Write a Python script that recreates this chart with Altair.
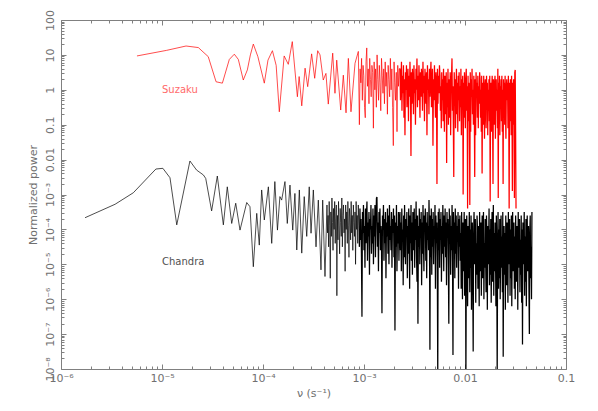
import numpy as np
import pandas as pd
import altair as alt

# ---------------- Suzaku (red) ----------------
# low-frequency part: frequency (Hz) and log10(normalized power)
suzaku_freq_low = [5.65e-6, 1.11e-5, 1.73e-5, 2.29e-5, 2.87e-5, 3.43e-5, 3.96e-5, 4.64e-5, 5.2e-5, 5.7e-5,
                   6.38e-5, 7.0e-5, 7.5e-5, 8.02e-5, 8.9e-5, 1.03e-4, 1.12e-4, 1.24e-4, 1.35e-4, 1.45e-4,
                   1.62e-4, 1.78e-4, 1.95e-4, 2.19e-4, 2.28e-4, 2.42e-4, 2.61e-4, 2.77e-4, 3.03e-4, 3.25e-4,
                   3.48e-4, 3.67e-4, 3.95e-4, 4.2e-4, 4.43e-4, 4.9e-4, 5.16e-4, 5.37e-4, 5.88e-4, 6.24e-4,
                   6.64e-4, 7.0e-4, 7.43e-4, 8.15e-4, 8.79e-4]
suzaku_logp_low = [0.97, 1.13, 1.255, 1.21, 0.95, 0.23, 0.19, 0.87, 1.02, 0.87,
                   0.28, 0.57, 1.0, 1.31, 0.95, 0.19, 0.85, 1.12, 0.7, -0.63,
                   0.97, 0.73, 1.38, -0.2, 0.38, -0.46, 0.62, 0.09, 1.03, 0.33,
                   1.12, 1.0, 0.28, 0.47, -0.41, 1.05, -0.1, 0.85, -0.58, 0.42,
                   -0.66, 0.9, -0.63, 0.76, 1.1]
# dense high-frequency part: band edges (Hz) and log10 power inside each band
suzaku_band_edges = [9.0e-4, 2.27e-3, 5.65e-3, 1.41e-2, 3.2e-2]
suzaku_band_a = [-1.0, 0.6, 0.2, 0.9, -0.3, 0.7, 0.4, -0.5, -0.8, 0.8, 1.2, 0.1, 0.6, -0.4, 0.9, 0.3, -0.2, 0.7,
                 0.5, -1.1, 0.8, 0.0, 0.6, -0.5, 1.0, 0.3, -0.3, 0.7, 0.2, -0.6, 0.9, 0.4, -0.1, 0.6, -0.4, 0.8,
                 0.1, 0.5, -0.7, 0.7, 0.3, -0.2, 0.9, 0.0, 0.6, -0.5, -1.6, 0.8, 0.2, -0.3, 0.5, -1.2, 0.7, 0.1, 0.6]
suzaku_band_b = [0.6, -0.3, 0.2, 0.8, -0.6, 0.4, -0.1, 0.7, -0.8, 0.3, -1.3, 0.5, 0.0, 0.7, -0.5, 0.2, 0.6, -0.9,
                 0.4, -0.2, 0.8, 0.1, -1.9, 0.5, -0.4, 0.6, 0.2, -0.7, 0.7, -0.1, 0.3, -1.0, 0.6, 0.0, 0.9, -0.5,
                 0.4, -0.3, 0.7, 0.1, -0.8, 0.5, -0.2, 0.6, 0.3, -0.6, 0.8, -0.1, 0.4, -0.9, 0.6, 0.2, -0.4, 0.5,
                 -1.3, 0.7, 0.0, 0.3, -0.7, 0.6, -0.2, 0.4, 0.8, -0.5, 0.1, 0.6, -1.6, 0.3, -0.3, 0.7, 0.0, -0.8,
                 0.5, 0.2, -2.7, 0.6, -0.4, 0.4, -0.1, 0.7]
suzaku_band_c = [0.4, -0.6, 0.1, -1.1, 0.5, -0.3, 0.3, -0.9, 0.6, -0.2, -1.2, 0.4, 0.0, -0.7, 0.5, -2.1, 0.2, -0.5,
                 0.6, -1.0, 0.3, -0.1, -0.8, 0.5, -1.3, 0.2, 0.4, 0.9, -0.6, 0.1, -1.0, -2.5, 0.5, -0.4, 0.3, -1.1,
                 0.0, 0.6, -0.7, 0.2, -1.2, 0.4, -0.3, 0.5, -0.9, 0.1, -0.5, 0.6, -1.3, 0.3, -0.2, 0.4, -3.0, 0.2,
                 -0.8, 0.5, -0.1, -1.1, 0.3, 0.6, -0.6, 0.1, -3.4, 0.4, -0.9, 0.2, -0.4, -3.3, 0.5, -1.2, 0.3, -0.2,
                 0.6, -0.7, 0.0, -1.0, 0.4, -0.5, -2.5, 0.3, -1.3, 0.5, -0.1, 0.2, -0.8, 0.4, -1.1, 0.1, -0.4, 0.5]
suzaku_band_d = [0.3, -0.8, 0.0, -1.2, 0.4, -2.4, -0.3, 0.2, -1.0, 0.4, -0.5, -1.4, 0.1, 0.3, -0.7, -1.1, 0.4, -0.2,
                 0.2, -1.3, 0.0, -0.6, 0.3, -0.9, 0.4, -3.2, -0.4, 0.2, -1.2, 0.1, 0.4, -0.8, -2.7, 0.3, -0.3, -1.0,
                 0.2, 0.4, -1.4, -0.1, 0.3, -0.6, 0.0, -1.1, 0.6, -3.1, 0.2, -0.5, 0.4, -1.3, 0.1, -0.2, 0.3, -0.9,
                 0.4, -1.2, 0.0, -2.7, 0.3, -0.4, 0.2, -1.0, 0.4, -0.7, -1.4, 0.1, 0.3, -0.3, 0.2, -1.1, 0.4, -0.6,
                 -3.4, 0.2, -0.9, 0.3, 0.0, -1.3, 0.4, -0.5, -2.9, 0.2, -1.0, 0.3, -0.2, -3.1, 0.5, 0.57, -1.2, -3.4]

# ---------------- Chandra (black) ----------------
chandra_freq_low = [1.73e-6, 3.43e-6, 5.2e-6, 8.7e-6, 1.02e-5, 1.2e-5, 1.4e-5, 1.89e-5, 2.2e-5, 2.57e-5,
                    2.71e-5, 3.1e-5, 3.53e-5, 4.05e-5, 4.43e-5, 4.9e-5, 5.37e-5, 5.92e-5, 6.9e-5, 7.43e-5,
                    8.02e-5, 8.67e-5, 9.19e-5, 9.7e-5, 1.03e-4, 1.13e-4, 1.22e-4, 1.31e-4, 1.39e-4, 1.47e-4,
                    1.53e-4, 1.65e-4, 1.74e-4, 1.85e-4, 1.97e-4, 2.07e-4, 2.16e-4, 2.29e-4, 2.42e-4, 2.56e-4,
                    2.71e-4, 2.87e-4, 2.99e-4, 3.15e-4, 3.35e-4, 3.53e-4, 3.75e-4, 3.9e-4, 4.11e-4]
chandra_logp_low = [-3.665, -3.28, -2.95, -2.27, -2.25, -2.52, -3.87, -2.04, -2.3, -2.44,
                    -2.54, -3.47, -2.47, -3.87, -2.78, -3.83, -3.25, -4.02, -3.23, -3.35,
                    -5.07, -3.54, -4.45, -2.87, -3.73, -2.78, -4.4, -2.63, -4.02, -3.06,
                    -3.16, -2.63, -3.83, -2.73, -4.02, -2.97, -4.59, -2.87, -4.68, -3.06,
                    -4.2, -2.78, -4.11, -2.87, -4.5, -3.16, -5.16, -3.16, -5.35]
chandra_band_edges = [4.3e-4, 9.12e-4, 2.27e-3, 8.9e-3, 4.6e-2]
chandra_band_a = [-3.3, -4.1, -3.6, -4.5, -3.2, -3.9, -5.4, -3.5, -4.2, -3.1, -3.8, -4.6, -3.4, -4.0, -3.2, -4.4,
                  -3.7, -3.3, -5.9, -3.6, -4.3, -3.2, -3.9, -4.7, -3.4, -3.8, -4.2, -3.1, -4.5, -3.6, -3.3, -4.1,
                  -3.7, -5.2, -3.3, -4.0, -3.5, -4.4, -3.2, -3.9, -4.8, -3.4, -3.7, -4.3, -3.2, -4.1, -3.6, -4.6,
                  -3.3, -3.8, -4.2, -3.5, -5.0, -3.2, -4.0, -3.6, -4.4, -3.3, -3.9, -4.5]
chandra_band_b = [-3.4, -4.3, -3.7, -4.8, -6.5, -3.5, -4.1, -3.3, -4.6, -3.9, -5.1, -3.4, -4.4, -3.6, -3.2, -4.9,
                  -3.8, -4.2, -3.5, -5.3, -3.7, -4.0, -3.3, -4.7, -3.9, -4.4, -3.4, -5.0, -3.6, -4.2, -3.3, -4.8,
                  -3.7, -3.1, -3.07, -4.5, -3.8, -5.2, -3.5, -4.1, -3.4, -4.6, -3.9, -4.3, -6.4, -3.6, -4.0, -3.3,
                  -4.9, -3.7, -4.4, -3.5, -5.4, -3.8, -4.2, -3.4, -4.7, -3.6, -5.0, -3.3, -4.3, -3.9, -4.6, -3.5,
                  -5.1, -3.7, -4.1, -3.4, -4.8, -3.6, -6.9, -3.8, -4.5, -3.3, -5.2, -3.9, -4.4, -3.5, -4.9, -3.7]
chandra_band_c = [-3.5, -4.6, -3.8, -5.2, -3.4, -4.3, -4.0, -5.6, -3.6, -4.8, -3.3, -4.5, -5.0, -3.7, -4.2, -3.5,
                  -5.4, -3.9, -4.7, -3.4, -4.1, -5.7, -3.6, -4.4, -3.3, -4.9, -3.8, -5.3, -3.5, -4.6, -4.0, -3.4,
                  -5.1, -3.7, -4.3, -3.2, -4.8, -5.5, -3.6, -6.7, -3.9, -4.5, -3.4, -5.0, -3.7, -4.2, -3.5, -5.6,
                  -3.8, -4.7, -3.3, -4.4, -5.2, -3.6, -4.0, -3.4, -4.9, -3.8, -5.4, -3.5, -4.3, -3.9, -4.6, -3.16,
                  -4.1, -7.45, -3.6, -4.8, -3.4, -5.3, -3.7, -4.5, -3.5, -5.0, -3.9, -4.2, -3.3, -5.7, -3.6, -4.4,
                  -3.8, -4.9, -8.3, -3.5, -4.6, -3.4, -5.1, -3.7, -4.3, -3.5, -5.5, -3.9, -4.7, -3.3, -4.0, -5.2,
                  -3.6, -4.5, -3.4, -4.8, -3.8, -5.6, -3.5, -4.2, -3.7, -5.0, -6.7, -3.4, -4.4, -3.6, -5.3, -3.9,
                  -4.6, -3.3, -4.9, -7.6, -3.5, -4.1, -3.8, -5.4, -3.4, -4.7, -3.6, -5.1, -3.9, -4.3, -3.5, -5.7,
                  -3.7, -4.5]
chandra_band_d = [-3.6, -4.9, -4.1, -5.7, -3.5, -4.4, -6.0, -3.8, -5.2, -4.6, -3.5, -5.9, -4.2, -3.7, -8.3, -5.0,
                  -3.6, -4.7, -6.2, -3.9, -5.4, -4.3, -3.5, -5.8, -4.0, -5.1, -3.6, -6.3, -4.5, -3.8, -5.5, -7.5,
                  -4.2, -3.5, -5.0, -4.8, -3.7, -6.1, -4.4, -5.3, -3.6, -4.0, -5.7, -3.9, -4.6, -6.2, -3.5, -5.2,
                  -4.3, -3.8, -5.9, -4.1, -3.6, -5.4, -4.9, -3.5, -6.0, -4.4, -5.1, -3.7, -4.7, -5.8, -3.6, -4.2,
                  -6.3, -3.9, -5.0, -4.5, -3.4, -5.6, -4.0, -5.3, -3.7, -6.1, -4.8, -3.5, -5.5, -4.3, -3.3, -5.9,
                  -4.1, -5.2, -3.8, -4.6, -6.2, -3.6, -5.0, -8.3, -4.4, -3.5, -5.7, -4.0, -5.4, -3.7, -6.0, -4.7,
                  -3.6, -5.1, -4.2, -5.8, -3.5, -7.65, -4.5, -3.9, -5.3, -4.1, -6.3, -3.6, -4.9, -5.6, -3.8, -4.3,
                  -6.1, -3.5, -5.0, -4.6, -3.7, -5.9, -4.0, -5.4, -3.6, -6.2, -4.4, -3.5, -5.2, -4.8, -3.8, -5.7,
                  -4.2, -6.0, -3.6, -4.5, -5.5, -3.9, -4.1, -6.3, -3.5, -5.1, -4.7, -3.7, -5.8, -4.3, -5.3, -3.6,
                  -6.1, -4.0, -7.3, -3.8, -5.0, -4.6, -3.5, -5.9, -4.2, -5.5, -3.7, -6.2, -4.4, -3.6, -5.2, -4.9,
                  -3.9, -5.7, -7.0, -4.1, -3.6, -5.4, -4.5, -6.0, -3.5]

# ---------------- axes ----------------
x_major = [1e-6, 1e-5, 1e-4, 1e-3, 1e-2, 1e-1]
x_major_labels = ["10⁻⁶", "10⁻⁵", "10⁻⁴", "10⁻³", "0.01", "0.1"]
y_major = [1e-8, 1e-7, 1e-6, 1e-5, 1e-4, 1e-3, 1e-2, 1e-1, 1, 10, 100]
y_major_labels = ["10⁻⁸", "10⁻⁷", "10⁻⁶", "10⁻⁵", "10⁻⁴", "10⁻³", "0.01", "0.1", "1", "10", "100"]
x_minor = [m * 10.0 ** e for e in range(-6, -1) for m in range(2, 10)]
y_minor = [m * 10.0 ** e for e in range(-8, 2) for m in range(2, 10)]

labels = {"Suzaku": (1.0e-5, 0.99), "Chandra": (1.0e-5, 1.16e-5)}


def build(freq_low, logp_low, edges, bands, n_thin=1):
    """Sparse part (drawn thin: traced low frequencies plus the first n_thin bands) and
    crowded part (remaining bands, drawn heavier), sharing their joint point."""
    f = list(freq_low)
    p = list(logp_low)
    split = None
    for i, band in enumerate(bands):
        if i == n_thin:
            split = len(f) - 1
        last = i == len(bands) - 1
        f += list(np.geomspace(edges[i], edges[i + 1], len(band), endpoint=last))
        p += list(band)
    table = pd.DataFrame({"freq": f, "power": 10.0 ** np.array(p)})
    return table.iloc[:split + 1], table.iloc[split:]


suz_low, suz_dense = build(suzaku_freq_low, suzaku_logp_low, suzaku_band_edges,
                           [suzaku_band_a, suzaku_band_b, suzaku_band_c, suzaku_band_d])
cha_low, cha_dense = build(chandra_freq_low, chandra_logp_low, chandra_band_edges,
                           [chandra_band_a, chandra_band_b, chandra_band_c, chandra_band_d])


def label_expr(vals, labs):
    parts = [f"datum.value < {v * 1.5:.3g} ? '{l}'" for v, l in zip(vals, labs)]
    return " : ".join(parts) + " : ''"


GREY = "#808080"
TXT = "#707070"
FONT = "DejaVu Sans"
xs = alt.Scale(type="log", domain=[1e-6, 0.1])
ys = alt.Scale(type="log", domain=[1e-8, 100])

common = dict(domain=False, grid=False, tickColor=GREY, tickWidth=1)


def x_axis(orient, values, size, show):
    kw = dict(common)
    if show:
        kw.update(labelExpr=label_expr(x_major, x_major_labels), labelColor=TXT, labelFont=FONT,
                  labelFontSize=11, labelPadding=3, labelFlush=False, labelOverlap=False,
                  title="ν (s⁻¹)", titleFont=FONT, titleFontSize=11, titleFontWeight="normal",
                  titleColor=TXT, titlePadding=4)
    else:
        kw.update(labels=False, title=None)
    return alt.Axis(orient=orient, values=values, tickSize=size, offset=-size, **kw)


def y_axis(orient, values, size, show):
    kw = dict(common)
    if show:
        kw.update(labelExpr=label_expr(y_major, y_major_labels), labelColor=TXT, labelFont=FONT,
                  labelFontSize=11, labelPadding=6, labelAngle=270, labelAlign="center",
                  labelBaseline="bottom", labelFlush=False, labelOverlap=False,
                  title="Normalized power", titleFont=FONT, titleFontSize=11, titleFontWeight="normal",
                  titleColor=TXT, titlePadding=6)
    else:
        kw.update(labels=False, title=None)
    return alt.Axis(orient=orient, values=values, tickSize=size, offset=-size, **kw)


X_NONE = alt.X("freq:Q", scale=xs, axis=None)
Y_NONE = alt.Y("power:Q", scale=ys, axis=None)

chandra_line = alt.Chart(cha_low).mark_line(color="black", strokeWidth=0.7, clip=True).encode(
    x=alt.X("freq:Q", scale=xs, axis=x_axis("bottom", x_major, 5, True)),
    y=alt.Y("power:Q", scale=ys, axis=y_axis("left", y_major, 5, True)),
)
chandra_band = alt.Chart(cha_dense).mark_line(color="black", strokeWidth=1.25, strokeJoin="bevel",
                                              clip=True).encode(x=X_NONE, y=Y_NONE)
suzaku_line = alt.Chart(suz_low).mark_line(color="#ff0000", strokeWidth=0.7, clip=True).encode(
    x=alt.X("freq:Q", scale=xs, axis=x_axis("top", x_major, 5, False)),
    y=alt.Y("power:Q", scale=ys, axis=y_axis("right", y_major, 5, False)),
)
suzaku_band = alt.Chart(suz_dense).mark_line(color="#ff0000", strokeWidth=1.25, strokeJoin="bevel",
                                             clip=True).encode(x=X_NONE, y=Y_NONE)
minor_a = alt.Chart(suz_low).mark_line(strokeOpacity=0, clip=True).encode(
    x=alt.X("freq:Q", scale=xs, axis=x_axis("bottom", x_minor, 3, False)),
    y=alt.Y("power:Q", scale=ys, axis=y_axis("left", y_minor, 3, False)),
)
minor_b = alt.Chart(suz_low).mark_line(strokeOpacity=0, clip=True).encode(
    x=alt.X("freq:Q", scale=xs, axis=x_axis("top", x_minor, 3, False)),
    y=alt.Y("power:Q", scale=ys, axis=y_axis("right", y_minor, 3, False)),
)

suz_lab = pd.DataFrame({"text": ["Suzaku"], "freq": [labels["Suzaku"][0]], "power": [labels["Suzaku"][1]]})
cha_lab = pd.DataFrame({"text": ["Chandra"], "freq": [labels["Chandra"][0]], "power": [labels["Chandra"][1]]})

suz_text = alt.Chart(suz_lab).mark_text(align="left", baseline="middle", font=FONT, fontSize=10,
                                        color="#ff6a6a").encode(x=X_NONE, y=Y_NONE, text="text:N")
cha_text = alt.Chart(cha_lab).mark_text(align="left", baseline="middle", font=FONT, fontSize=10,
                                        color="#505050").encode(x=X_NONE, y=Y_NONE, text="text:N")

chart = alt.layer(chandra_line, chandra_band, suzaku_line, suzaku_band, minor_a, minor_b,
                  suz_text, cha_text).resolve_axis(
    x="independent", y="independent"
).properties(
    width=505, height=349,
    autosize=alt.AutoSizeParams(type="none"),
    padding={"left": 53, "top": 12, "right": 24, "bottom": 34},
    background="white",
).configure_view(stroke=GREY, strokeWidth=1)

chart.save("out.html", embed_options={"renderer": "svg", "actions": False})
